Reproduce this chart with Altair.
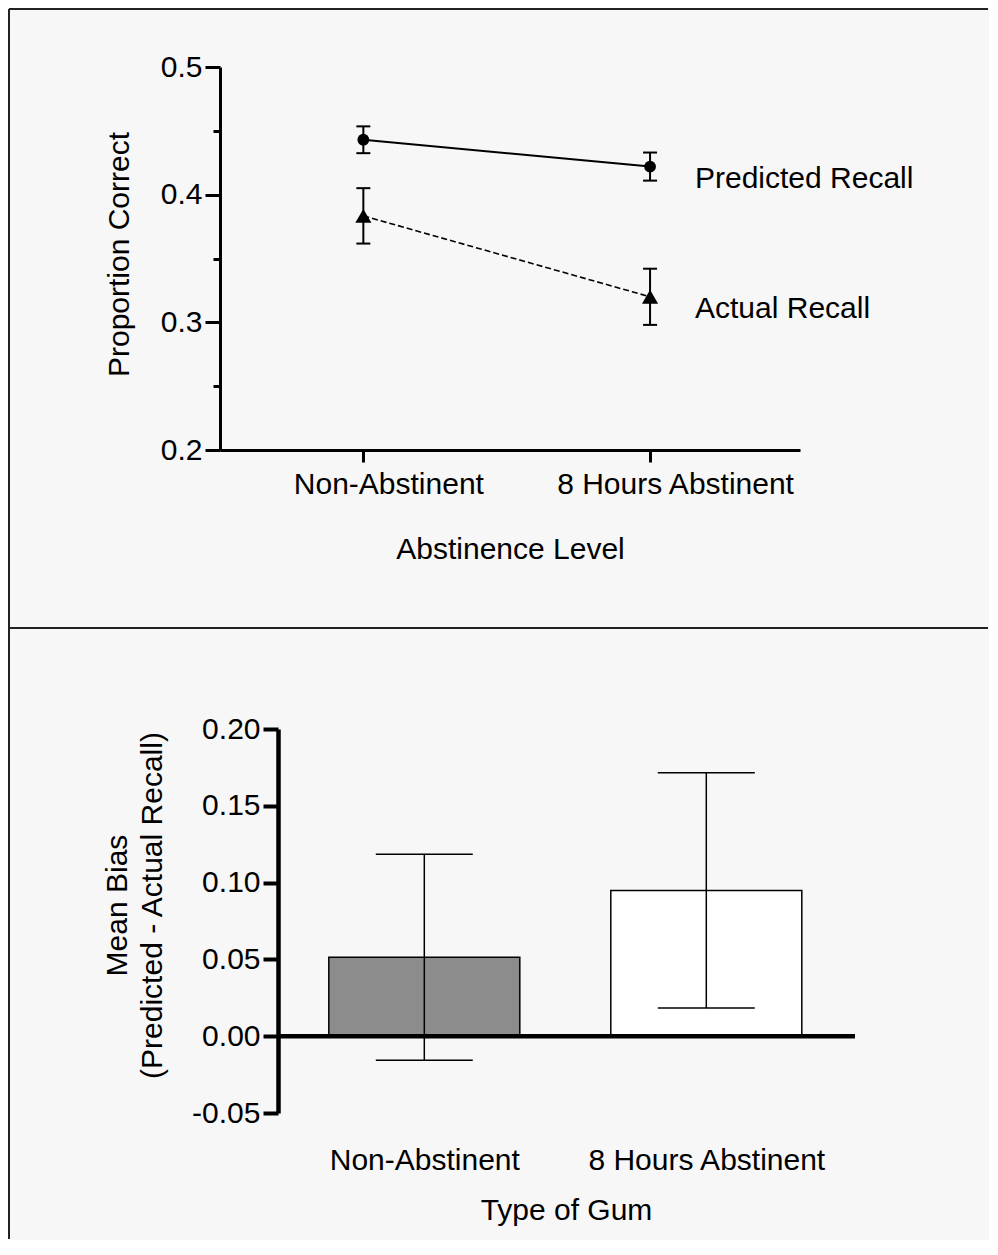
import json
import altair as alt
import pandas as pd

# ---------------- data ----------------
categories = ["Non-Abstinent", "8 Hours Abstinent"]
series_names = ["Predicted Recall", "Actual Recall"]
predicted = [0.443, 0.422]
predicted_err = [0.0105, 0.011]
actual = [0.3834, 0.320]
actual_err = [0.0217, 0.022]

bias = [0.0514, 0.0949]
bias_err = [0.067, 0.0766]

top_ticks = [0.2, 0.25, 0.3, 0.35, 0.4, 0.45, 0.5]
bottom_ticks = [-0.05, -0.025, 0.0, 0.025, 0.05, 0.075, 0.1, 0.125, 0.15, 0.175, 0.2]

FONT = "Liberation Sans"
BG = "#f7f7f7"
FS = 30

rows = []
for s, vals, errs in [(series_names[0], predicted, predicted_err),
                      (series_names[1], actual, actual_err)]:
    for i, (c, v, e) in enumerate(zip(categories, vals, errs)):
        rows.append({"pos": i, "category": c, "series": s,
                     "value": v, "lo": v - e, "hi": v + e})
top_df = pd.DataFrame(rows)

bottom_df = pd.DataFrame({
    "pos": list(range(len(categories))),
    "category": categories,
    "bias": bias,
    "lo": [b - e for b, e in zip(bias, bias_err)],
    "hi": [b + e for b, e in zip(bias, bias_err)],
})

cat_expr = json.dumps(categories) + "[datum.value]"

# ---------------- top panel ----------------
TW, TH = 580, 383
top_x_scale = alt.Scale(domain=[-0.5, 1.523], nice=False, zero=False)
top_y_scale = alt.Scale(domain=[0.2, 0.5], nice=False, zero=False)

top_x_axis = alt.Axis(values=[0, 1], labelExpr=cat_expr, tickSize=12, tickWidth=3,
                      domainWidth=3, labelPadding=7, labelOffset=25, titlePadding=35,
                      labelFlush=False, labelOverlap=False, labelLimit=0)
major_top = "abs(datum.value*10 - round(datum.value*10)) < 0.001"
top_y_axis = alt.Axis(values=top_ticks,
                      labelExpr=f"({major_top}) ? format(datum.value, '.1f') : ''",
                      tickSize={"condition": {"test": major_top, "value": 15}, "value": 7},
                      tickWidth=3, domainWidth=3, labelPadding=3, titlePadding=26,
                      titleY=187, labelFlush=False, labelOverlap=False)

base_top = alt.Chart(top_df).encode(
    x=alt.X("pos:Q", scale=top_x_scale, axis=top_x_axis, title="Abstinence Level"),
    y=alt.Y("value:Q", scale=top_y_scale, axis=top_y_axis, title="Proportion Correct"),
)

pred_line = base_top.transform_filter(alt.datum.series == series_names[0]).mark_line(
    color="black", strokeWidth=2)
act_line = base_top.transform_filter(alt.datum.series == series_names[1]).mark_line(
    color="black", strokeWidth=1.6, strokeDash=[6, 3])
pred_pts = base_top.transform_filter(alt.datum.series == series_names[0]).mark_point(
    shape="circle", filled=True, color="black", size=140, opacity=1)
act_pts = base_top.transform_filter(alt.datum.series == series_names[1]).mark_point(
    shape="triangle-up", filled=True, color="black", size=260, opacity=1)

err_v = alt.Chart(top_df).mark_rule(color="black", strokeWidth=2).encode(
    x="pos:Q", y="lo:Q", y2="hi:Q")
cap_lo = alt.Chart(top_df).mark_rule(color="black", strokeWidth=2, xOffset=-7, x2Offset=7).encode(
    x="pos:Q", x2="pos", y="lo:Q")
cap_hi = alt.Chart(top_df).mark_rule(color="black", strokeWidth=2, xOffset=-7, x2Offset=7).encode(
    x="pos:Q", x2="pos", y="hi:Q")

labels = alt.Chart(top_df).transform_filter(alt.datum.pos == 1).mark_text(
    align="left", baseline="middle", dy=12, fontSize=FS, font=FONT, color="black").encode(
    x=alt.value(475), y="value:Q", text="series:N")

one = pd.DataFrame({"a": [0]})
BORDER = "#222222"
border_top = alt.Chart(one).mark_rule(color=BORDER, strokeWidth=2).encode(
    x=alt.value(-211), x2=alt.value(768), y=alt.value(-58))
border_mid = alt.Chart(one).mark_rule(color=BORDER, strokeWidth=2).encode(
    x=alt.value(-211), x2=alt.value(768), y=alt.value(561))
border_left = alt.Chart(one).mark_rule(color=BORDER, strokeWidth=2).encode(
    x=alt.value(-211), y=alt.value(-58), y2=alt.value(1172))

top = alt.layer(border_top, border_mid, border_left, pred_line, act_line, err_v,
                cap_lo, cap_hi, pred_pts, act_pts, labels).properties(width=TW, height=TH)

# ---------------- bottom panel ----------------
BW, BH = 635, 384
bot_x_scale = alt.Scale(domain=[-0.7068, 1.5096], nice=False, zero=False)
bot_y_scale = alt.Scale(domain=[-0.05, 0.2], nice=False, zero=False)

bot_x_axis = alt.Axis(values=[0, 1], labelExpr=cat_expr, domain=False, ticks=False,
                      tickSize=0, labelPadding=32, titlePadding=20, titleX=346,
                      labelFlush=False, labelOverlap=False, labelLimit=0)
major_bot = "abs(datum.value*20 - round(datum.value*20)) < 0.001"
bot_y_axis = alt.Axis(values=bottom_ticks,
                      labelExpr=f"({major_bot}) ? ((datum.value < -0.0001 ? '-' : '') + format(abs(datum.value), '.2f')) : ''",
                      tickSize={"condition": {"test": major_bot, "value": 15}, "value": 8},
                      tickWidth=4, domainWidth=4.5, labelPadding=3, titlePadding=24,
                      titleLineHeight=35, offset=-58, titleY=176,
                      labelFlush=False, labelOverlap=False)

bars = alt.Chart(bottom_df).mark_bar(size=191, stroke="black", strokeWidth=1.5).encode(
    x=alt.X("pos:Q", scale=bot_x_scale, axis=bot_x_axis, title="Type of Gum"),
    y=alt.Y("bias:Q", scale=bot_y_scale, axis=bot_y_axis,
            title=["Mean Bias", "(Predicted - Actual Recall)"]),
    y2=alt.datum(0),
    fill=alt.Fill("category:N", scale=alt.Scale(domain=categories, range=["#8c8c8c", "#ffffff"]),
                  legend=None),
)
b_err = alt.Chart(bottom_df).mark_rule(color="black", strokeWidth=1.5).encode(
    x="pos:Q", y="lo:Q", y2="hi:Q")
b_cap_lo = alt.Chart(bottom_df).mark_rule(color="black", strokeWidth=1.5, xOffset=-48.5,
                                          x2Offset=48.5).encode(x="pos:Q", x2="pos", y="lo:Q")
b_cap_hi = alt.Chart(bottom_df).mark_rule(color="black", strokeWidth=1.5, xOffset=-48.5,
                                          x2Offset=48.5).encode(x="pos:Q", x2="pos", y="hi:Q")
zero_line = alt.Chart(one).mark_rule(color="black", strokeWidth=4.5).encode(
    x=alt.value(58), x2=alt.value(635), y=alt.datum(0))

bottom = alt.layer(bars, b_err, b_cap_lo, b_cap_hi, zero_line).properties(width=BW, height=BH)

chart = alt.vconcat(top, bottom, spacing=279, bounds="flush").properties(
    background=BG, padding=0
).configure(font=FONT).configure_view(strokeWidth=0).configure_axis(
    grid=False, labelFont=FONT, titleFont=FONT, labelFontSize=FS, titleFontSize=FS,
    titleFontWeight="normal", labelColor="black", titleColor="black",
    domainColor="black", tickColor="black",
)

chart.save("out.html", embed_options={"renderer": "svg", "actions": False})
